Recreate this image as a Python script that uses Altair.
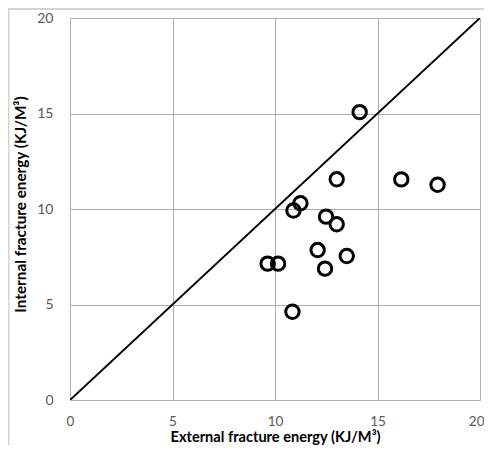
import altair as alt
import pandas as pd

# Data
external = [14.13, 13.01, 16.16, 17.93, 11.24, 10.90, 12.49, 13.01, 12.08, 13.50, 12.44, 9.64, 10.15, 10.85]
internal = [15.07, 11.56, 11.55, 11.27, 10.30, 9.92, 9.60, 9.20, 7.85, 7.54, 6.88, 7.14, 7.14, 4.62]
line_x = [0, 20]
line_y = [0, 20]

pts = pd.DataFrame({"x": external, "y": internal})
diag = pd.DataFrame({"x": line_x, "y": line_y})

FONT = "Lato"

xscale = alt.Scale(domain=[0, 20], nice=False, zero=True)
yscale = alt.Scale(domain=[0, 20], nice=False, zero=True)

xaxis = alt.Axis(
    values=[0, 5, 10, 15, 20], title="External fracture energy (KJ/M³)",
    grid=True, gridColor="#b0b0b0", gridWidth=1, ticks=False,
    domainColor="#b0b0b0", labelColor="#595959", labelFont=FONT, labelFontSize=13.5,
    labelPadding=14, titleFont=FONT, titleFontSize=14.6, titleFontWeight="bold",
    titleColor="#000000", labelFlush=False,
    labelAlign=alt.expr("datum.value == 20 ? 'right' : 'center'"),
    labelOffset=alt.expr("datum.value == 20 ? 4 : 0"),
    titleX=205, titleY=37.5, titleBaseline="middle", titleAlign="center",
)
yaxis = alt.Axis(
    values=[0, 5, 10, 15, 20], title="Internal fracture energy (KJ/M³)",
    grid=True, gridColor="#b0b0b0", gridWidth=1, ticks=False,
    domainColor="#b0b0b0", labelColor="#595959", labelFont=FONT, labelFontSize=14,
    labelPadding=17, titleFont=FONT, titleFontSize=15.3, titleFontWeight="bold",
    titleColor="#000000", labelFlush=False,
    titleX=-50, titleY=186, titleBaseline="middle", titleAlign="center",
)

line = alt.Chart(diag).mark_line(color="black", strokeWidth=2, clip=True).encode(
    x=alt.X("x:Q", scale=xscale, axis=xaxis),
    y=alt.Y("y:Q", scale=yscale, axis=yaxis),
)

points = alt.Chart(pts).mark_point(
    shape="circle", filled=False, color="black", strokeWidth=3, size=180, opacity=1
).encode(
    x=alt.X("x:Q", scale=xscale),
    y=alt.Y("y:Q", scale=yscale),
)

border = alt.Chart(pd.DataFrame({"a": [0]})).mark_rect(
    fill=None, stroke="#d4d4d4", strokeWidth=2, clip=False
).encode(
    x=alt.value(-61.5), x2=alt.value(440), y=alt.value(-9), y2=alt.value(460)
)

chart = alt.layer(border, line, points).properties(
    width=410, height=382,
    autosize=alt.AutoSizeParams(type="none"),
    padding={"left": 62, "top": 10, "right": 4, "bottom": 45},
).configure_view(stroke="#b0b0b0", strokeWidth=1).configure(background="white")

chart.save("out.html", embed_options={"renderer": "svg", "actions": False})
